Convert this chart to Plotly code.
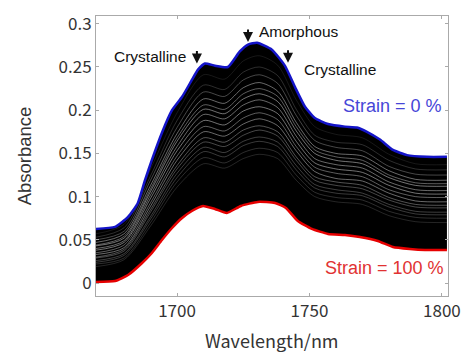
import plotly.graph_objects as go

# ---- data ----
wl_blue = [1669.4, 1676.6, 1681.5, 1685.2, 1687.9, 1690.5, 1694.3, 1698.1, 1701.9, 1705.6,
           1707.9, 1710.5, 1714.3, 1719.2, 1723.7, 1726.8, 1730.2, 1735.8, 1740.7, 1744.5,
           1748.3, 1752.0, 1757.0, 1763.4, 1767.9, 1771.7, 1776.6, 1781.5, 1786.8, 1794.3, 1801.9]
abs_blue = [0.0626, 0.0649, 0.0765, 0.0927, 0.119, 0.1425, 0.174, 0.200, 0.2155, 0.235,
            0.247, 0.254, 0.2515, 0.250, 0.268, 0.276, 0.278, 0.270, 0.2515, 0.227,
            0.204, 0.191, 0.184, 0.181, 0.180, 0.175, 0.166, 0.154, 0.148, 0.146, 0.146]

wl_red = [1669.4, 1676.6, 1681.5, 1686.8, 1690.5, 1694.3, 1698.1, 1701.9, 1705.6, 1709.8,
          1714.3, 1718.8, 1724.1, 1730.5, 1737.0, 1741.1, 1745.6, 1750.9, 1757.0, 1763.4,
          1769.0, 1775.8, 1781.5, 1787.9, 1793.6, 1801.9]
abs_red = [0.0012, 0.0023, 0.0093, 0.0232, 0.0348, 0.0498, 0.0637, 0.0753, 0.0834, 0.0892,
           0.0857, 0.0811, 0.0892, 0.0939, 0.0927, 0.0869, 0.0718, 0.0626, 0.0568, 0.0556,
           0.0533, 0.0487, 0.0417, 0.0394, 0.0382, 0.0382]

# light streaks visible inside the dark bundle of intermediate spectra
wl_mid = [1669.4, 1680, 1690, 1700, 1710, 1718, 1725, 1731, 1738, 1745, 1752, 1760, 1770, 1780, 1790, 1801.9]
streaks = [
    [0.057, 0.068, 0.132, 0.197, 0.241, 0.236, 0.257, 0.263, 0.252, 0.212, 0.181, 0.172, 0.168, 0.149, 0.138, 0.137],
    [0.053, 0.064, 0.124, 0.188, 0.229, 0.224, 0.244, 0.250, 0.240, 0.201, 0.171, 0.163, 0.160, 0.142, 0.132, 0.131],
    [0.050, 0.060, 0.119, 0.180, 0.221, 0.216, 0.235, 0.241, 0.231, 0.194, 0.165, 0.157, 0.153, 0.135, 0.126, 0.125],
    [0.047, 0.057, 0.113, 0.173, 0.213, 0.208, 0.226, 0.232, 0.222, 0.186, 0.158, 0.150, 0.147, 0.130, 0.120, 0.119],
    [0.044, 0.054, 0.109, 0.168, 0.206, 0.201, 0.219, 0.225, 0.216, 0.181, 0.154, 0.146, 0.142, 0.125, 0.116, 0.115],
    [0.043, 0.052, 0.106, 0.164, 0.201, 0.196, 0.213, 0.219, 0.210, 0.176, 0.150, 0.142, 0.138, 0.122, 0.113, 0.112],
    [0.040, 0.049, 0.102, 0.158, 0.195, 0.190, 0.206, 0.212, 0.203, 0.170, 0.144, 0.137, 0.133, 0.117, 0.108, 0.107],
    [0.038, 0.047, 0.098, 0.153, 0.188, 0.183, 0.199, 0.204, 0.196, 0.164, 0.139, 0.132, 0.128, 0.113, 0.104, 0.103],
    [0.035, 0.044, 0.093, 0.147, 0.181, 0.176, 0.191, 0.197, 0.189, 0.158, 0.134, 0.127, 0.123, 0.108, 0.100, 0.099],
    [0.033, 0.041, 0.089, 0.142, 0.175, 0.170, 0.184, 0.190, 0.182, 0.153, 0.129, 0.121, 0.118, 0.104, 0.095, 0.094],
    [0.030, 0.039, 0.085, 0.136, 0.168, 0.163, 0.177, 0.182, 0.175, 0.146, 0.123, 0.117, 0.113, 0.099, 0.091, 0.090],
    [0.029, 0.037, 0.082, 0.132, 0.163, 0.158, 0.171, 0.177, 0.170, 0.142, 0.119, 0.113, 0.109, 0.096, 0.088, 0.087],
    [0.026, 0.034, 0.077, 0.127, 0.157, 0.151, 0.164, 0.169, 0.163, 0.136, 0.114, 0.108, 0.104, 0.091, 0.083, 0.082],
    [0.024, 0.032, 0.074, 0.122, 0.152, 0.146, 0.159, 0.164, 0.158, 0.131, 0.110, 0.104, 0.101, 0.088, 0.080, 0.079],
    [0.022, 0.029, 0.070, 0.117, 0.145, 0.139, 0.151, 0.156, 0.151, 0.125, 0.105, 0.099, 0.096, 0.083, 0.076, 0.075],
    [0.019, 0.027, 0.066, 0.111, 0.138, 0.133, 0.144, 0.149, 0.144, 0.119, 0.100, 0.094, 0.091, 0.078, 0.071, 0.070],
]
streak_alpha = [0.12, 0.22, 0.35, 0.5, 0.45, 0.55, 0.5, 0.55, 0.45, 0.5, 0.4, 0.35, 0.3, 0.28, 0.22, 0.18]

x_ticks = [1700, 1750, 1800]
y_ticks = [0, 0.05, 0.1, 0.15, 0.2, 0.25, 0.3]
y_ticktext = ["0", "0.05", "0.1", "0.15", "0.2", "0.25", "0.3"]

fig = go.Figure()

# dark bundle: fill between 100 % and 0 % strain spectra
fig.add_trace(go.Scatter(x=wl_red, y=abs_red, mode="lines",
                         line=dict(color="black", width=0, shape="spline", smoothing=0.5),
                         hoverinfo="skip", showlegend=False))
fig.add_trace(go.Scatter(x=wl_blue, y=abs_blue, mode="lines", fill="tonexty",
                         fillcolor="black",
                         line=dict(color="black", width=0, shape="spline", smoothing=0.5),
                         hoverinfo="skip", showlegend=False))

for s, a in zip(streaks, streak_alpha):
    fig.add_trace(go.Scatter(x=wl_mid, y=s, mode="lines",
                             line=dict(color=f"rgba(230,230,230,{a})", width=0.9,
                                       shape="spline", smoothing=0.8),
                             hoverinfo="skip", showlegend=False))

fig.add_trace(go.Scatter(x=wl_red, y=abs_red, mode="lines",
                         line=dict(color="rgb(230,0,0)", width=2.5, shape="spline", smoothing=0.5),
                         showlegend=False))
fig.add_trace(go.Scatter(x=wl_blue, y=abs_blue, mode="lines",
                         line=dict(color="rgb(20,20,200)", width=2.5, shape="spline", smoothing=0.5),
                         showlegend=False))

txt_font = dict(family="Liberation Sans, Arial, sans-serif", size=15.5, color="#111")
arrow = dict(showarrow=True, arrowhead=2, arrowsize=1, arrowwidth=2, arrowcolor="#111",
             ax=0, ay=-14, text="")
annotations = [
    dict(x=1704.1, y=0.262, text="Crystalline", showarrow=False, xanchor="right", yanchor="middle", font=txt_font),
    dict(x=1730.2, y=0.291, text="Amorphous", showarrow=False, xanchor="left", yanchor="middle", font=txt_font),
    dict(x=1747.1, y=0.247, text="Crystalline", showarrow=False, xanchor="left", yanchor="middle", font=txt_font),
    dict(x=1707.5, y=0.254, **arrow),
    dict(x=1726.8, y=0.279, **arrow),
    dict(x=1741.9, y=0.255, **arrow),
    dict(x=1800.7, y=0.205, text="Strain = 0 %", showarrow=False, xanchor="right", yanchor="middle",
         font=dict(family="Liberation Sans, Arial, sans-serif", size=18, color="rgb(70,70,215)")),
    dict(x=1801.5, y=0.017, text="Strain = 100 %", showarrow=False, xanchor="right", yanchor="middle",
         font=dict(family="Liberation Sans, Arial, sans-serif", size=18, color="rgb(225,50,50)")),
    # x-axis title, placed as low as fits inside the figure
    dict(x=0.5, y=-0.2071, xref="paper", yref="paper", text="Wavelength/nm", showarrow=False,
         xanchor="center", yanchor="bottom", borderpad=0,
         font=dict(family="Noto Sans CJK JP, sans-serif", size=18, color="#333")),
]

axis_common = dict(showline=True, linecolor="#aaaaaa", linewidth=1, mirror="ticks",
                   ticks="inside", ticklen=3, tickcolor="#aaaaaa", showgrid=False, zeroline=False,
                   automargin=False,
                   tickfont=dict(family="Noto Sans CJK JP, sans-serif", size=17, color="#333"))

fig.update_layout(
    width=463, height=354,
    margin=dict(l=96, r=15, t=16, b=58),
    paper_bgcolor="white", plot_bgcolor="white",
    xaxis=dict(range=[1669.4, 1802.3], tickvals=x_ticks, **axis_common),
    yaxis=dict(range=[-0.015, 0.309], tickvals=y_ticks, ticktext=y_ticktext,
               title=dict(text="Absorbance", standoff=22,
                          font=dict(family="Liberation Sans, Arial, sans-serif", size=18.5, color="#333")),
               **axis_common),
    annotations=annotations,
)

fig.write_html("out.html")
